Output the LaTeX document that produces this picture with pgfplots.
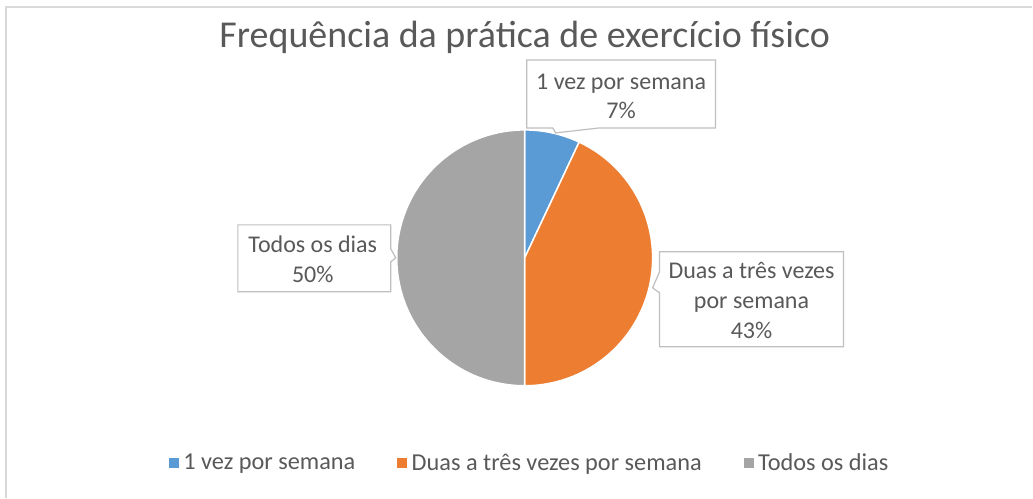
\documentclass[border=0pt]{standalone}
\usepackage{pgfplots}
\usepackage{pgfplotstable}
\pgfplotsset{compat=1.18}
\usepackage{fontspec}
\setmainfont{Carlito}
\definecolor{c1}{HTML}{5B9BD5}
\definecolor{c2}{HTML}{ED7D31}
\definecolor{c3}{HTML}{A5A5A5}
\definecolor{txt}{HTML}{595959}
\definecolor{bord}{HTML}{D9D9D9}
\definecolor{cbord}{HTML}{BFBFBF}

\pgfplotstableread{
label value
1vez 7
duas 43
todos 50
}\piedata
\pgfplotstablegetelem{0}{value}\of\piedata \let\va\pgfplotsretval
\pgfplotstablegetelem{1}{value}\of\piedata \let\vb\pgfplotsretval
\pgfplotstablegetelem{2}{value}\of\piedata \let\vc\pgfplotsretval
\pgfmathsetmacro{\aZero}{90}
\pgfmathsetmacro{\aOne}{90-3.6*\va}
\pgfmathsetmacro{\aTwo}{\aOne-3.6*\vb}
\pgfmathsetmacro{\aThree}{\aTwo-3.6*\vc}
\def\cx{525}\def\cy{240}\def\R{128}

\begin{document}
\begin{tikzpicture}
\begin{axis}[
  scale only axis, width=1033pt, height=498pt,
  xmin=0, xmax=1033, ymin=0, ymax=498,
  hide axis, clip=false,
  legend style={at={(axis cs:530,35)}, anchor=center, draw=none, fill=none,
    font=\fontsize{24.3}{28}\selectfont\color{txt}, legend columns=3,
    /tikz/every even column/.append style={column sep=40pt}},
  legend cell align=left,
]
\path (axis cs:0,0) rectangle (axis cs:1033,498);
% border
\draw[bord, line width=1.3pt] (axis cs:6,0) -- (axis cs:6,491) -- (axis cs:1033,491);
% title
\node[txt, font=\fontsize{38}{44}\selectfont] at (axis cs:525,461) {Frequência da prática de exercício físico};
% pie
\fill[c1, draw=white, line width=1.5pt] (axis cs:\cx,\cy) -- (axis cs:{\cx+\R*cos(\aZero)},{\cy+\R*sin(\aZero)}) arc[start angle=\aZero, end angle=\aOne, radius=\R] -- cycle;
\fill[c2, draw=white, line width=1.5pt] (axis cs:\cx,\cy) -- (axis cs:{\cx+\R*cos(\aOne)},{\cy+\R*sin(\aOne)}) arc[start angle=\aOne, end angle=\aTwo, radius=\R] -- cycle;
\fill[c3, draw=white, line width=1.5pt] (axis cs:\cx,\cy) -- (axis cs:{\cx+\R*cos(\aTwo)},{\cy+\R*sin(\aTwo)}) arc[start angle=\aTwo, end angle=\aThree, radius=\R] -- cycle;
% callouts
\draw[cbord, fill=white, line width=1.2pt] (axis cs:527,438) -- (axis cs:716,438) -- (axis cs:716,370) -- (axis cs:600,370) -- (axis cs:556,365) -- (axis cs:553,370) -- (axis cs:527,370) -- cycle;
\node[txt, align=center, font=\fontsize{24}{29}\selectfont] at (axis cs:621.5,402) {1 vez por semana\\7\%};
\draw[cbord, fill=white, line width=1.2pt] (axis cs:660,246) -- (axis cs:844,246) -- (axis cs:844,151) -- (axis cs:660,151) -- (axis cs:660,205) -- (axis cs:653,210) -- (axis cs:660,226) -- cycle;
\node[txt, align=center, font=\fontsize{24}{30}\selectfont] at (axis cs:752,197) {Duas a três vezes\\por semana\\43\%};
\draw[cbord, fill=white, line width=1.2pt] (axis cs:238,273) -- (axis cs:391,273) -- (axis cs:391,249) -- (axis cs:396,240) -- (axis cs:391,236) -- (axis cs:391,206) -- (axis cs:238,206) -- cycle;
\node[txt, align=center, font=\fontsize{24}{30}\selectfont] at (axis cs:313,239) {Todos os dias\\50\%};
% legend
\addlegendimage{legend image code/.code={\fill[c1] (0pt,-4.5pt) rectangle (9pt,4.5pt); \path (12pt,0pt);}}
\addlegendentry{1 vez por semana}
\addlegendimage{legend image code/.code={\fill[c2] (0pt,-4.5pt) rectangle (9pt,4.5pt); \path (12pt,0pt);}}
\addlegendentry{Duas a três vezes por semana}
\addlegendimage{legend image code/.code={\fill[c3] (0pt,-4.5pt) rectangle (9pt,4.5pt); \path (12pt,0pt);}}
\addlegendentry{Todos os dias}
\end{axis}
\end{tikzpicture}
\end{document}
